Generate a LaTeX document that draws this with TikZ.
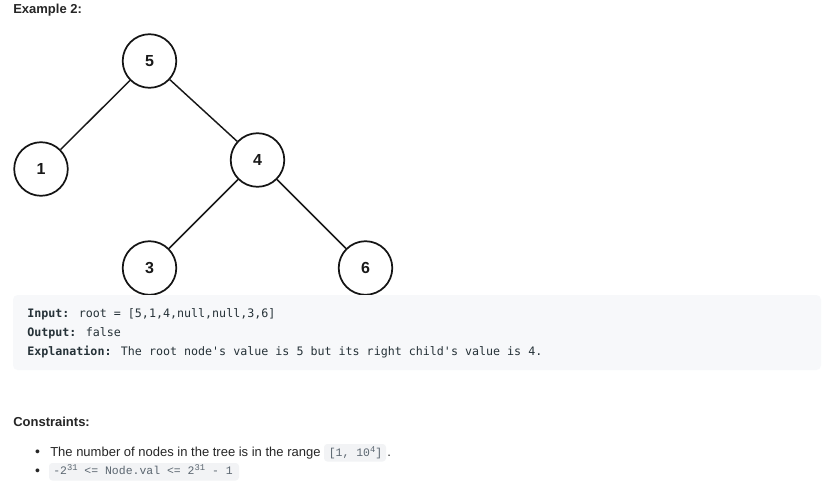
\documentclass[tikz,border=0pt]{standalone}
\usepackage{fontspec}
\setmainfont{Liberation Sans}
\newfontfamily\boxmono{DejaVu Sans Mono}
\newfontfamily\codemono{Liberation Mono}

\definecolor{inktext}{HTML}{262626}
\definecolor{panelbg}{HTML}{F7F8FA}
\definecolor{codebg}{HTML}{F2F3F5}
\definecolor{codetext}{HTML}{5B6670}
\definecolor{monotext}{HTML}{263238}

\newcommand{\supnum}[1]{\raisebox{3.3pt}{\fontsize{6.6}{7}\selectfont #1}}

\begin{document}
\begin{tikzpicture}[x=0.75pt,y=-0.75pt,
  treenode/.style={circle, draw=black!92, line width=1.3pt, minimum size=40.2pt,
    inner sep=0pt, font=\bfseries\fontsize{12}{14}\selectfont, text=black!90},
  treeedge/.style={line width=1.1pt, draw=black!90},
  heading/.style={anchor=base west, inner sep=0pt, text=inktext,
    font=\bfseries\fontsize{9.75}{12}\selectfont},
  bodytext/.style={anchor=base west, inner sep=0pt, text=inktext,
    font=\fontsize{9.75}{12}\selectfont},
  paneltext/.style={anchor=base west, inner sep=0pt, text=monotext,
    font=\boxmono\fontsize{8.75}{11}\selectfont},
  codetxt/.style={anchor=base west, inner sep=0pt, text=codetext,
    font=\codemono\fontsize{8.6}{10}\selectfont},
  bulletmark/.style={anchor=base, inner sep=0pt, text=inktext,
    font=\fontsize{10.5}{12}\selectfont},
  codebox/.style={fill=codebg, draw=none, rounded corners=2.5pt}
]
\useasboundingbox (0,0) rectangle (828,485);
\fill[white] (0,0) rectangle (828,485);

% heading
\node[heading] (example) at (13,14) {Example 2:};

% binary tree
\node[treenode] (n5) at (149.5,61) {5};
\node[treenode] (n1) at (41,169) {1};
\node[treenode] (n4) at (257.5,160) {4};
\node[treenode] (n3) at (149.5,268) {3};
\node[treenode] (n6) at (365.5,268) {6};

\draw[treeedge] (n5) -- (n1);
\draw[treeedge] (n5) -- (n4);
\draw[treeedge] (n4) -- (n3);
\draw[treeedge] (n4) -- (n6);

% example panel (covers the lower edge of the bottom circles)
\fill[panelbg, rounded corners=3.5pt] (13,295) rectangle (821,370);

\node[paneltext] (inp) at (27,317) {\textbf{Input:} root = [5,1,4,null,null,3,6]};
\node[paneltext] (outp) at (27,336) {\textbf{Output:} false};
\node[paneltext] (expl) at (27,355) {\textbf{Explanation:} The root node's value is 5 but its right child's value is 4.};

% constraints
\node[heading] (constr) at (13,426) {Constraints:};

\node[bulletmark] (b1) at (37.5,456.5) {\textbullet};
\node[bodytext] (c1) at (50,456) {The number of nodes in the tree is in the range};
\fill[codebox] (324,444) rectangle (386,461.5);
\node[codetxt] (c1code) at (328.5,456.5) {[1, 10\supnum{4}]};
\node[bodytext] (c1dot) at (387,456) {.};

\node[bulletmark] (b2) at (37.5,475) {\textbullet};
\fill[codebox] (49,463) rectangle (239,480.5);
\node[codetxt] (c2code) at (53,474.5) {-2\supnum{31} <= Node.val <= 2\supnum{31} - 1};
\end{tikzpicture}
\end{document}
